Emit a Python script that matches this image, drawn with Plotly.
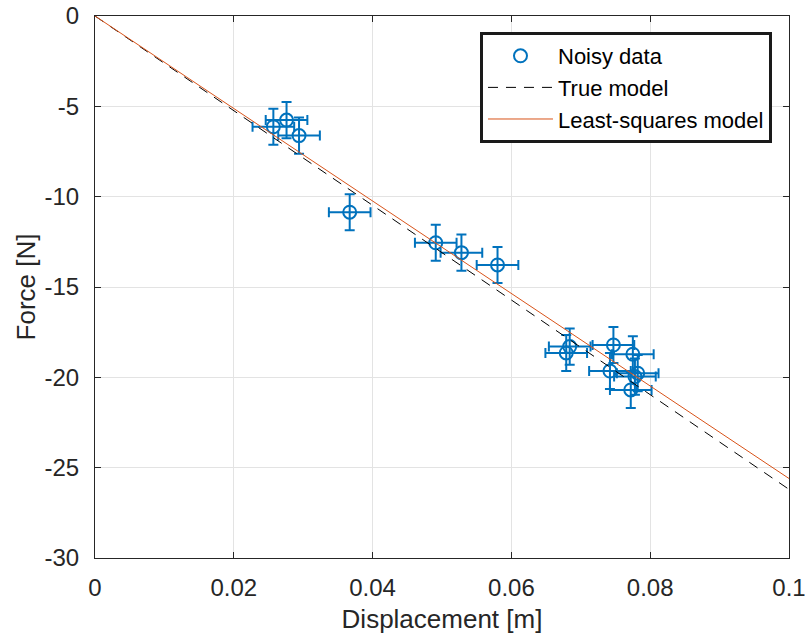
import plotly.graph_objects as go

# Data
disp = [0.0257, 0.0276, 0.0294, 0.0367, 0.0491, 0.0528, 0.0580,
        0.0684, 0.0679, 0.0747, 0.0775, 0.0742, 0.0782, 0.0778, 0.0772]
force = [-6.13, -5.76, -6.62, -10.86, -12.55, -13.10, -13.78,
         -18.30, -18.65, -18.21, -18.72, -19.65, -19.77, -19.96, -20.70]
disp_err = 0.003
force_err = 1.0

line_x = [0.0, 0.1]
true_model = [0.0, -26.2]
ls_model = [0.0, -25.6]

x_ticks = [0, 0.02, 0.04, 0.06, 0.08, 0.1]
x_ticklabels = ["0", "0.02", "0.04", "0.06", "0.08", "0.1"]
y_ticks = [-30, -25, -20, -15, -10, -5, 0]
y_ticklabels = ["-30", "-25", "-20", "-15", "-10", "-5", "0"]

blue = "#0072BD"
orange = "#D95319"
font_family = "Liberation Sans, Arial, sans-serif"
txt = "#262626"

fig = go.Figure()
fig.add_trace(go.Scatter(
    x=disp, y=force, mode="markers", name="Noisy data",
    marker=dict(symbol="circle-open", size=13, color=blue, line=dict(width=2, color=blue)),
    error_x=dict(type="constant", value=disp_err, color=blue, thickness=2, width=5),
    error_y=dict(type="constant", value=force_err, color=blue, thickness=2, width=5),
))
fig.add_trace(go.Scatter(
    x=line_x, y=true_model, mode="lines", name="True model",
    line=dict(color="black", width=1, dash="10px,8px"),
))
fig.add_trace(go.Scatter(
    x=line_x, y=ls_model, mode="lines", name="Least-squares model",
    line=dict(color=orange, width=1),
))

axis_common = dict(
    showline=True, linecolor=txt, linewidth=1, mirror="ticks",
    ticks="inside", ticklen=6, tickcolor=txt,
    showgrid=True, gridcolor="#e3e3e3", gridwidth=1, zeroline=False,
    tickfont=dict(family=font_family, size=24, color=txt),
    automargin=False, ticklabeloverflow="allow",
)

fig.update_xaxes(range=[0, 0.1], tickvals=x_ticks, ticktext=x_ticklabels,
                 ticklabelstandoff=8,
                 title=dict(text="Displacement [m]", font=dict(family=font_family, size=26, color=txt), standoff=10),
                 **axis_common)
fig.update_yaxes(range=[-30, 0], tickvals=y_ticks, ticktext=y_ticklabels,
                 ticklabelstandoff=10,
                 title=dict(text="Force [N]", font=dict(family=font_family, size=26, color=txt), standoff=1),
                 **axis_common)

fig.update_layout(
    width=805, height=639,
    margin=dict(l=95, r=16, t=16, b=81),
    paper_bgcolor="white", plot_bgcolor="white",
    font=dict(family=font_family, size=22, color="black"),
    legend=dict(x=0.9755, y=0.9705, xanchor="right", yanchor="top",
                bordercolor="#1a1a1a", borderwidth=3, bgcolor="white",
                font=dict(family=font_family, size=22, color="black"),
                itemwidth=65, tracegroupgap=0),
    showlegend=True,
)

fig.write_html("out.html")
